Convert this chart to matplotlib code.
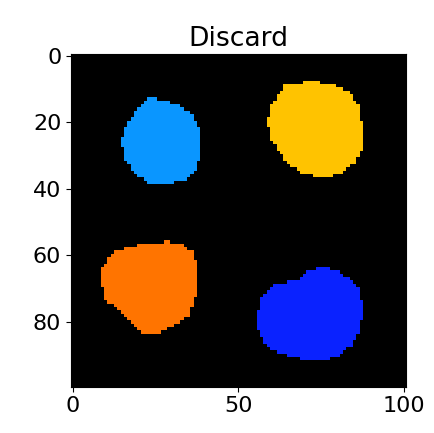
import numpy as np
import matplotlib
matplotlib.use("Agg")
import matplotlib.pyplot as plt
from matplotlib.path import Path
from matplotlib.colors import ListedColormap

# label image is 100 rows x 101 cols
n_rows, n_cols = 100, 101

# blob outlines (x, y) in pixel coords
blob_cyan = [(23, 13), (27, 13.5), (32, 15), (36, 18), (38, 22), (38, 30), (37, 34),
             (34, 37), (29, 38), (23, 38), (19, 35), (16, 31), (15, 26), (16, 22), (19, 17)]
blob_yellow = [(64, 9), (71, 8.2), (78, 8.5), (83, 11), (86, 15), (87, 22), (87, 28),
               (85, 32), (80, 35.5), (74, 36), (69, 35), (65, 32), (62, 28), (60, 25),
               (59, 20), (60, 15)]
blob_orange = [(12, 59.5), (18, 57.5), (24, 56.5), (29, 56.3), (33, 57), (36, 59), (37, 63),
               (37, 72), (35, 78), (30, 81), (26, 83), (21, 83), (17, 79.5), (14, 76),
               (10, 73), (9, 68), (9, 64)]
blob_blue = [(70, 65.5), (74, 64), (79, 64.5), (83, 67), (86, 70), (87, 75), (86.5, 82),
             (84, 87), (79, 90.5), (73, 91), (66, 90.5), (60, 88), (56.5, 84), (56, 78),
             (57.5, 72), (61, 69), (66, 68), (69, 67)]

blobs = [blob_cyan, blob_yellow, blob_orange, blob_blue]
colours = ['#000000', '#0a96ff', '#ffc300', '#ff7400', '#0a22ff']

# rasterise each outline with 4x4 sub-samples per pixel
ss = 4
sub = (np.arange(ss) + 0.5) / ss - 0.5
yy, xx = np.mgrid[0:n_rows, 0:n_cols]
labels = np.zeros((n_rows, n_cols), dtype=int)
for i, b in enumerate(blobs):
    cover = np.zeros((n_rows, n_cols))
    p = Path(b)
    for dy in sub:
        for dx in sub:
            pts = np.column_stack([(xx + dx).ravel(), (yy + dy).ravel()])
            cover += p.contains_points(pts).reshape(n_rows, n_cols)
    labels[cover / ss**2 >= 0.25] = i + 1

plt.rcParams['font.size'] = 16
fig = plt.figure(figsize=(4.34, 4.33), dpi=100)
ax = fig.add_axes([0.1636, 0.107, 0.7714, 0.7676])
ax.imshow(labels, cmap=ListedColormap(colours), vmin=0, vmax=4, interpolation='nearest')
ax.set_aspect('auto')
ax.set_title('Discard')
ax.set_xticks([0, 50, 100])
ax.set_yticks([0, 20, 40, 60, 80])
fig.savefig('out.png', dpi=100)
